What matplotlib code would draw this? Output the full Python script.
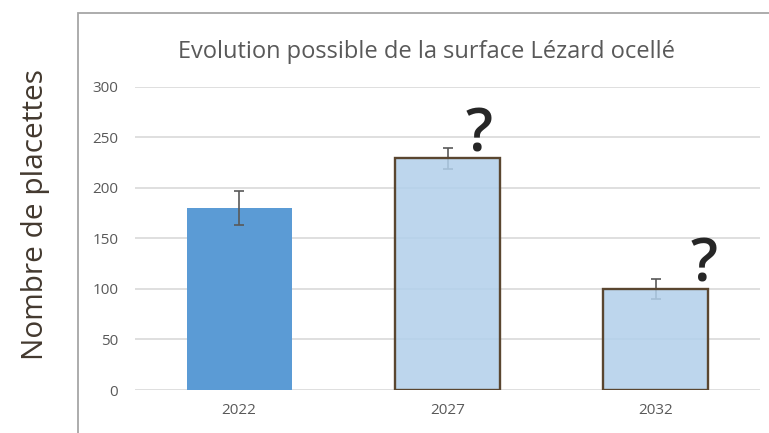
import matplotlib.pyplot as plt
import matplotlib.patches as patches
import numpy as np

############################################################################################################

years = ["2022", "2027", "2032"]
placettes = [180, 229, 100]
erreurs = [17, 10, 10]
hypothese = [False, True, True]   # future values, outlined and marked with "?"
qmark_shift = [0.0, 0.15, 0.23]

title = "Evolution possible de la surface Lézard ocellé"
y_label = "Nombre de placettes"

############################################################################################################

plt.rcParams['font.family'] = ['Open Sans', 'DejaVu Sans']

fig = plt.figure(figsize=(7.69, 4.33), dpi=100, facecolor='w')
ax = fig.add_axes([135 / 769, 1 - 390 / 433, 625 / 769, (390 - 86.7) / 433])

x = np.arange(len(years))

# error bars first, the light bars sit over them (slightly transparent, like the original)
ax.errorbar(x, placettes, yerr=erreurs, fmt='none', ecolor='#595959',
            elinewidth=1.2, capsize=3.5, capthick=1.2, zorder=2)

for i in range(len(years)):
    if hypothese[i]:
        ax.bar(x[i], placettes[i], width=0.505, facecolor=(178 / 255, 208 / 255, 235 / 255, 0.855),
               edgecolor='#5a4630', linewidth=1.7, zorder=3)
        ax.text(x[i] + qmark_shift[i], placettes[i] + erreurs[i] - 3, "?", fontsize=43,
                fontweight='semibold', color='#262626', ha='center', va='baseline', zorder=5)
    else:
        ax.bar(x[i], placettes[i], width=0.505, color='#5b9bd5', linewidth=0, zorder=1)

ax.set_xlim(-0.5, len(years) - 0.5)
ax.set_ylim(0, 300)
ax.set_yticks(range(0, 301, 50))
ax.set_xticks(x)
ax.set_xticklabels(years)
ax.yaxis.grid(True, color='#d9d9d9', linewidth=1.2, zorder=0)
ax.set_axisbelow(True)
for s in ax.spines.values():
    s.set_visible(False)
ax.tick_params(axis='both', length=0, colors='#595959', labelsize=11)
ax.tick_params(axis='y', pad=12)
ax.tick_params(axis='x', pad=9)

fig.text(426 / 769, 1 - 52 / 433, title, fontsize=17, color='#595959', ha='center', va='center')
fig.text(36 / 769, 1 - 214 / 433, y_label, fontsize=21.5, color='#43392f', rotation=90,
         ha='center', va='center')

# chart area frame (only top and left edges are visible in the crop)
frame = patches.Rectangle((78 / 769, -0.2), 1.0, 1.2 - 13 / 433, transform=fig.transFigure,
                          fill=False, edgecolor='#a6a6a6', linewidth=1.3, clip_on=False)
fig.add_artist(frame)

plt.savefig("out.png", dpi=100)
